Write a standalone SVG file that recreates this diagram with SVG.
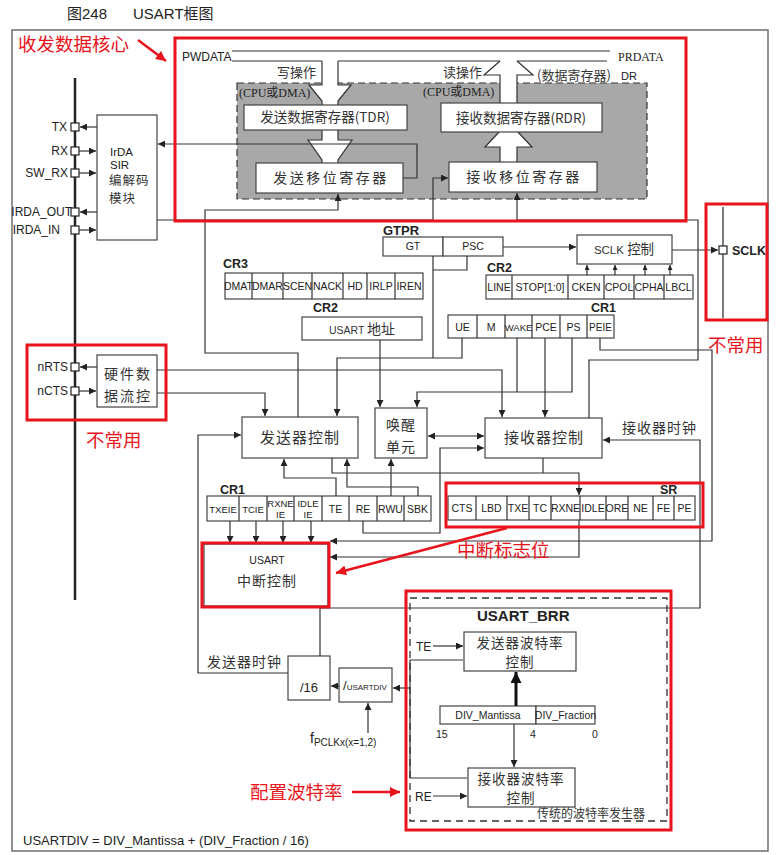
<svg xmlns="http://www.w3.org/2000/svg" width="777" height="855" viewBox="0 0 777 855">
<defs>
<style>
.l{fill:none;stroke:#333;stroke-width:1.2}
.m{marker-end:url(#ah)}
.b{fill:#fff;stroke:#444;stroke-width:1.2}
.s{font-family:"Liberation Sans","Noto Sans CJK SC",sans-serif;fill:#222}
.c{font-family:"Liberation Sans","Noto Sans CJK SC",sans-serif;font-size:10.5px;fill:#222;text-anchor:middle}
.z{font-family:"Noto Sans CJK SC",sans-serif;fill:#333}
.zm{font-family:"Noto Sans CJK SC",sans-serif;fill:#333;text-anchor:middle}
.sf{font-family:"Liberation Serif","Noto Sans CJK SC",serif;fill:#222}
.bd{font-family:"Liberation Sans",sans-serif;font-weight:bold;fill:#222}
.r{fill:none;stroke:#e8131b;stroke-width:3}
.rt{font-family:"Noto Sans CJK SC",sans-serif;fill:#e8131b;font-size:18.5px}
.ra{fill:none;stroke:#e8131b;stroke-width:2.5;marker-end:url(#ra)}
.pin{fill:#fff;stroke:#222;stroke-width:1.2}
.wa{fill:#fff;stroke:none}
</style>
<marker id="ah" viewBox="0 0 10 10" refX="10" refY="5" markerWidth="8" markerHeight="7" markerUnits="userSpaceOnUse" orient="auto-start-reverse"><path d="M0,0L10,5L0,10z" fill="#222"/></marker>
<marker id="sm" viewBox="0 0 10 10" refX="10" refY="5" markerWidth="5" markerHeight="5" markerUnits="userSpaceOnUse" orient="auto"><path d="M0,0L10,5L0,10z" fill="#222"/></marker>
<marker id="tk" viewBox="0 0 10 10" refX="10" refY="5" markerWidth="12" markerHeight="11" markerUnits="userSpaceOnUse" orient="auto"><path d="M0,0L10,5L0,10z" fill="#111"/></marker>
<marker id="ra" viewBox="0 0 10 10" refX="10" refY="5" markerWidth="13" markerHeight="10" markerUnits="userSpaceOnUse" orient="auto"><path d="M0,0L10,5L0,10z" fill="#e8131b"/></marker>
</defs>
<rect width="777" height="855" fill="#fff"/>

<g id="title">
<text class="s" x="67" y="19" font-size="15" fill="#333">图248</text>
<text class="s" x="133" y="19" font-size="15" fill="#333">USART框图</text>
</g>
<rect id="frame" x="12" y="30" width="756" height="821" fill="none" stroke="#777" stroke-width="1.6"/>

<g id="core">
<rect x="237" y="83" width="410" height="116" fill="#a8a8a8" stroke="#333" stroke-width="1.2" stroke-dasharray="7,4"/>
<text class="s" x="182" y="61" font-size="12">PWDATA</text>
<text class="sf" x="618" y="61" font-size="12">PRDATA</text>
<path class="l" d="M232,51H610M232,61H322M338,61H500M517,61H607"/>
<polygon class="wa" points="322,61 322,85 309,85 322,101 322,106 338,106 338,101 351,85 338,85 338,61"/>
<path class="l" d="M322,61V85H309L322,101V106M338,61V85H351L338,101V106"/>
<polygon class="wa" points="500,104 500,75 484,75 500,61 517,61 533,75 517,75 517,104"/>
<path class="l" d="M500,104V75H484L500,61M517,61L533,75H517V104"/>
<polygon class="wa" points="322,130 322,140 308,140 322,160 322,164 338,164 338,160 352,140 338,140 338,130"/>
<path class="l" d="M322,130V140H308L322,160V164M338,130V140H352L338,160V164"/>
<polygon class="wa" points="500,163 500,147 485,147 500,131 517,131 532,147 517,147 517,163"/>
<path class="l" d="M500,163V147H485L500,131M517,131L532,147H517V163"/>
<text class="z" x="277" y="77" font-size="13">写操作</text>
<text class="z" x="443" y="77" font-size="13">读操作</text>
<text class="sf" x="239" y="97" font-size="12">(CPU或DMA)</text>
<text class="sf" x="423" y="96" font-size="12">(CPU或DMA)</text>
<text class="z" x="537" y="80" font-size="13">(数据寄存器)</text>
<text class="s" x="621" y="80" font-size="11">DR</text>
</g>
<g id="tdr"><rect class="b" x="244" y="105" width="163" height="25"/><text class="zm" x="325" y="122" font-size="13.5">发送数据寄存器(TDR)</text></g>
<g id="tsr"><rect class="b" x="256" y="163" width="147" height="30"/><text class="zm" x="331" y="183" font-size="14" letter-spacing="2.5">发送移位寄存器</text></g>
<g id="rdr"><rect class="b" x="441" y="103" width="161" height="29"/><text class="zm" x="521" y="123" font-size="13.5">接收数据寄存器(RDR)</text></g>
<g id="rsr"><rect class="b" x="449" y="162" width="148" height="30"/><text class="zm" x="524" y="182" font-size="14" letter-spacing="2.5">接收移位寄存器</text></g>

<g id="bus">
<path d="M75,78V600" stroke="#222" stroke-width="2.5" fill="none"/>
<rect class="pin" x="71" y="123" width="8" height="8"/>
<rect class="pin" x="71" y="147" width="8" height="8"/>
<rect class="pin" x="71" y="169" width="8" height="8"/>
<rect class="pin" x="71" y="208" width="8" height="8"/>
<rect class="pin" x="71" y="226" width="8" height="8"/>
<rect class="pin" x="71" y="363" width="8" height="8"/>
<rect class="pin" x="71" y="387" width="8" height="8"/>
<g class="s" font-size="12" text-anchor="end">
<text x="67" y="131">TX</text>
<text x="68" y="155">RX</text>
<text x="68" y="177">SW_RX</text>
<text x="72" y="216">IRDA_OUT</text>
<text x="60" y="234">IRDA_IN</text>
<text x="68" y="371">nRTS</text>
<text x="68" y="395">nCTS</text>
</g>
</g>

<g id="irda"><rect class="b" x="97" y="115" width="60" height="125"/>
<text class="s" x="110" y="156" font-size="11.5">IrDA</text>
<text class="s" x="110" y="169" font-size="11.5">SIR</text>
<text class="z" x="109" y="185" font-size="12.5" letter-spacing="1">编解码</text>
<text class="z" x="109" y="203" font-size="12.5" letter-spacing="1">模块</text></g>

<g id="hwflow"><rect class="b" x="97" y="355" width="60" height="52"/>
<text class="zm" x="128" y="379" font-size="14" letter-spacing="2">硬件数</text>
<text class="zm" x="128" y="401" font-size="14" letter-spacing="2">据流控</text></g>

<g id="gtpr"><text class="bd" x="383" y="235" font-size="13">GTPR</text>
<rect class="b" x="383" y="237" width="60" height="19"/><rect class="b" x="443" y="237" width="60" height="19"/>
<text class="c" x="413" y="250">GT</text><text class="c" x="473" y="250">PSC</text></g>

<g id="sclkctl"><rect class="b" x="577" y="235" width="95" height="29"/>
<text class="zm" x="624" y="254"><tspan font-family="Liberation Sans" font-size="11.5">SCLK </tspan><tspan font-size="13.5">控制</tspan></text></g>

<g id="sclk"><path d="M723,207V318" stroke="#333" stroke-width="1.3"/>
<rect class="pin" x="719" y="246" width="8" height="8"/>
<text class="bd" x="732" y="255" font-size="12.5">SCLK</text></g>

<g id="cr3"><text class="bd" x="223" y="268" font-size="12.5">CR3</text>
<rect class="b" x="225" y="273" width="198" height="26"/>
<path class="l" d="M252,273V299M283,273V299M312,273V299M343,273V299M367,273V299M395,273V299"/>
<g class="c" font-size="9.3"><text x="238.5" y="290">DMAT</text><text x="267.5" y="290">DMAR</text><text x="297.5" y="290">SCEN</text><text x="327.5" y="290">NACK</text><text x="355" y="290">HD</text><text x="381" y="290">IRLP</text><text x="409" y="290">IREN</text></g></g>

<g id="cr2a"><text class="bd" x="487" y="272" font-size="12.5">CR2</text>
<rect class="b" x="486" y="275" width="207" height="24"/>
<path class="l" d="M512,275V299M568,275V299M604,275V299M634,275V299M664,275V299"/>
<g class="c" font-size="10"><text x="499" y="291">LINE</text><text x="540" y="291">STOP[1:0]</text><text x="586" y="291">CKEN</text><text x="619" y="291">CPOL</text><text x="649" y="291">CPHA</text><text x="678.5" y="291">LBCL</text></g></g>

<g id="cr2b"><text class="bd" x="313" y="312" font-size="12.5">CR2</text>
<rect class="b" x="302" y="317" width="120" height="23"/>
<text class="zm" x="362" y="334"><tspan font-family="Liberation Sans" font-size="10.5">USART </tspan><tspan font-size="14">地址</tspan></text></g>

<g id="cr1a"><text class="bd" x="591" y="312" font-size="12.5">CR1</text>
<rect class="b" x="448" y="315" width="166" height="23"/>
<path class="l" d="M477,315V338M505,315V338M532,315V338M560,315V338M587,315V338"/>
<g class="c"><text x="462.5" y="331">UE</text><text x="491" y="331">M</text><text x="518.5" y="331" font-size="9.5">WAKE</text><text x="546" y="331">PCE</text><text x="573.5" y="331">PS</text><text x="600.5" y="331" font-size="10">PEIE</text></g></g>

<g id="txctl"><rect class="b" x="242" y="417" width="116" height="41"/><text class="zm" x="300" y="443" font-size="15" letter-spacing="1">发送器控制</text></g>
<g id="wake"><rect class="b" x="375" y="408" width="52" height="50"/><text class="zm" x="401" y="430" font-size="14" letter-spacing="1">唤醒</text><text class="zm" x="401" y="452" font-size="14" letter-spacing="1">单元</text></g>
<g id="rxctl"><rect class="b" x="485" y="418" width="117" height="40"/><text class="zm" x="544" y="443" font-size="15" letter-spacing="1">接收器控制</text></g>

<g id="cr1b"><text class="bd" x="220" y="494" font-size="12.5">CR1</text>
<rect class="b" x="207" y="496" width="224" height="25"/>
<path class="l" d="M239,496V521M267,496V521M294,496V521M322,496V521M349,496V521M377,496V521M404,496V521"/>
<g class="c"><text x="223" y="513" font-size="9.5">TXEIE</text><text x="253" y="513" font-size="9.5">TCIE</text><text x="280.5" y="507" font-size="9.5">RXNE</text><text x="280.5" y="518" font-size="9.5">IE</text><text x="308" y="507" font-size="9.5">IDLE</text><text x="308" y="518" font-size="9.5">IE</text><text x="335.5" y="513">TE</text><text x="363" y="513">RE</text><text x="390.5" y="513">RWU</text><text x="417.5" y="513">SBK</text></g></g>

<g id="sr"><text class="bd" x="660" y="494" font-size="12.5">SR</text>
<rect class="b" x="448" y="496" width="247" height="24"/>
<path class="l" d="M476,496V520M507,496V520M529,496V520M551,496V520M580,496V520M606,496V520M628,496V520M653,496V520M674,496V520"/>
<g class="c" font-size="10"><text x="462" y="512">CTS</text><text x="491.5" y="512">LBD</text><text x="518" y="512">TXE</text><text x="540" y="512">TC</text><text x="565.5" y="512">RXNE</text><text x="593" y="512">IDLE</text><text x="617" y="512">ORE</text><text x="640.5" y="512">NE</text><text x="663.5" y="512">FE</text><text x="684.5" y="512">PE</text></g></g>

<g id="irq"><rect class="b" x="204" y="544" width="124" height="62" stroke="#666"/>
<text class="c" x="267" y="564">USART</text><text class="zm" x="267" y="586" font-size="14" letter-spacing="1">中断控制</text></g>

<g id="div16"><rect class="b" x="288" y="656" width="42" height="44"/><text class="s" x="309" y="692" font-size="13" text-anchor="middle">/16</text></g>
<g id="usartdiv"><rect class="b" x="339" y="668" width="53" height="34"/><text class="s" x="343" y="690"><tspan font-size="13">/</tspan><tspan font-size="8">USARTDIV</tspan></text></g>
<g id="fpclk"><text class="s" x="310" y="743"><tspan font-size="14">f</tspan><tspan font-size="10" dy="3">PCLKx(x=1,2)</tspan></text></g>

<g id="brr">
<rect x="410" y="598" width="257" height="223" fill="none" stroke="#333" stroke-width="1.3" stroke-dasharray="7,5"/>
<text class="bd" x="477" y="621" font-size="15">USART_BRR</text>
<rect class="b" x="464" y="632" width="112" height="39"/>
<text class="zm" x="520" y="648" font-size="13.5" letter-spacing="1">发送器波特率</text><text class="zm" x="520" y="667" font-size="13.5" letter-spacing="1">控制</text>
<rect class="b" x="440" y="706" width="96" height="18"/><rect class="b" x="536" y="706" width="59" height="18"/>
<text class="c" x="488" y="719" font-size="11">DIV_Mantissa</text><text class="c" x="565.5" y="719" font-size="10.5">DIV_Fraction</text>
<g class="s" font-size="10.5"><text x="436" y="738">15</text><text x="530" y="738">4</text><text x="592" y="738">0</text></g>
<rect class="b" x="468" y="768" width="107" height="39"/>
<text class="zm" x="521" y="784" font-size="13.5" letter-spacing="1">接收器波特率</text><text class="zm" x="521" y="803" font-size="13.5" letter-spacing="1">控制</text>
<text class="s" x="416" y="651" font-size="12">TE</text><text class="s" x="415" y="801" font-size="12">RE</text>
<text class="z" x="537" y="818" font-size="12">传统的波特率发生器</text>
</g>

<g id="labels">
<text class="z" x="622" y="433" font-size="14" letter-spacing="1">接收器时钟</text>
<text class="z" x="207" y="667" font-size="14" letter-spacing="1">发送器时钟</text>
<text class="s" x="23" y="845" font-size="13">USARTDIV = DIV_Mantissa + (DIV_Fraction / 16)</text>
</g>

<g id="connectors">
<path class="l m" d="M403,178H417V144H158"/>
<path class="l m" d="M298,417V353H205V210H338V194"/>
<path class="l m" d="M157,220H433V178H448"/>
<path class="l m" d="M589,418V360H698V220H517V193"/>
<path class="l m" d="M97,127H80"/>
<path class="l m" d="M79,151H96"/>
<path class="l m" d="M79,173H96"/>
<path class="l m" d="M97,212H80"/>
<path class="l m" d="M79,230H96"/>
<path class="l m" d="M97,367H80"/>
<path class="l m" d="M79,391H96"/>
<path class="l m" d="M157,370H502V417"/>
<path class="l m" d="M157,393H265V416"/>
<path class="l" d="M433,256V358M467,256V270H433"/>
<path class="l m" d="M503,247H576"/>
<path class="l m" d="M672,250H718"/>
<path class="l" d="M587,275V265" marker-end="url(#sm)"/>
<path class="l" d="M615,275V265" marker-end="url(#sm)"/>
<path class="l" d="M645,275V265" marker-end="url(#sm)"/>
<path class="l" d="M670,275V265" marker-end="url(#sm)"/>
<path class="l m" d="M380,340V407"/>
<path class="l m" d="M462,338V358H337V416"/>
<path class="l" d="M517,338V392"/>
<path class="l m" d="M572,338V392H417V407"/>
<path class="l m" d="M545,338V417"/>
<path class="l m" d="M600,338V350H712V541H330"/>
<path class="l" d="M428,436H484" marker-start="url(#ah)" marker-end="url(#ah)"/>
<path class="l m" d="M363,521V533H440V448H484"/>
<path class="l m" d="M320,656V608H700V440H603"/>
<path class="l m" d="M288,673H198V435H241"/>
<path class="l m" d="M336,496V478H284V459"/>
<path class="l m" d="M418,496V487H347V459"/>
<path class="l m" d="M391,496V459"/>
<path class="l m" d="M332,458V473H579V495"/>
<path class="l" d="M543,458V473"/>
<path class="l m" d="M579,520V557H330"/>
<path class="l m" d="M230,521V543"/>
<path class="l m" d="M256,521V543"/>
<path class="l m" d="M283,521V543"/>
<path class="l m" d="M311,521V543"/>
<path class="l m" d="M339,686H331"/>
<path class="l m" d="M410,688H393"/>
<path class="l m" d="M368,733V703"/>
<path class="l" d="M463,660H410V778H467"/>
<path class="l m" d="M433,646H463"/>
<path class="l m" d="M433,796H467"/>
<path d="M516,706V672" stroke="#111" stroke-width="3" fill="none" marker-end="url(#tk)"/>
<path class="l m" d="M514,724V767"/>
</g>

<g id="annotations">
<rect class="r" x="175" y="38" width="511" height="183"/>
<rect class="r" x="27" y="345" width="139" height="75"/>
<rect class="r" x="706" y="204" width="61" height="116"/>
<rect class="r" x="446" y="483" width="257" height="44"/>
<rect class="r" x="202" y="543" width="127" height="64"/>
<rect class="r" x="406" y="591" width="265" height="239"/>
<text class="rt" x="18" y="51">收发数据核心</text>
<text class="rt" x="86" y="447">不常用</text>
<text class="rt" x="708" y="352">不常用</text>
<text class="rt" x="457" y="557">中断标志位</text>
<text class="rt" x="250" y="799">配置波特率</text>
<path class="ra" d="M138,40L166,61"/>
<path class="ra" d="M507,528L336,573"/>
<path class="ra" d="M352,792H400"/>
</g>
</svg>
